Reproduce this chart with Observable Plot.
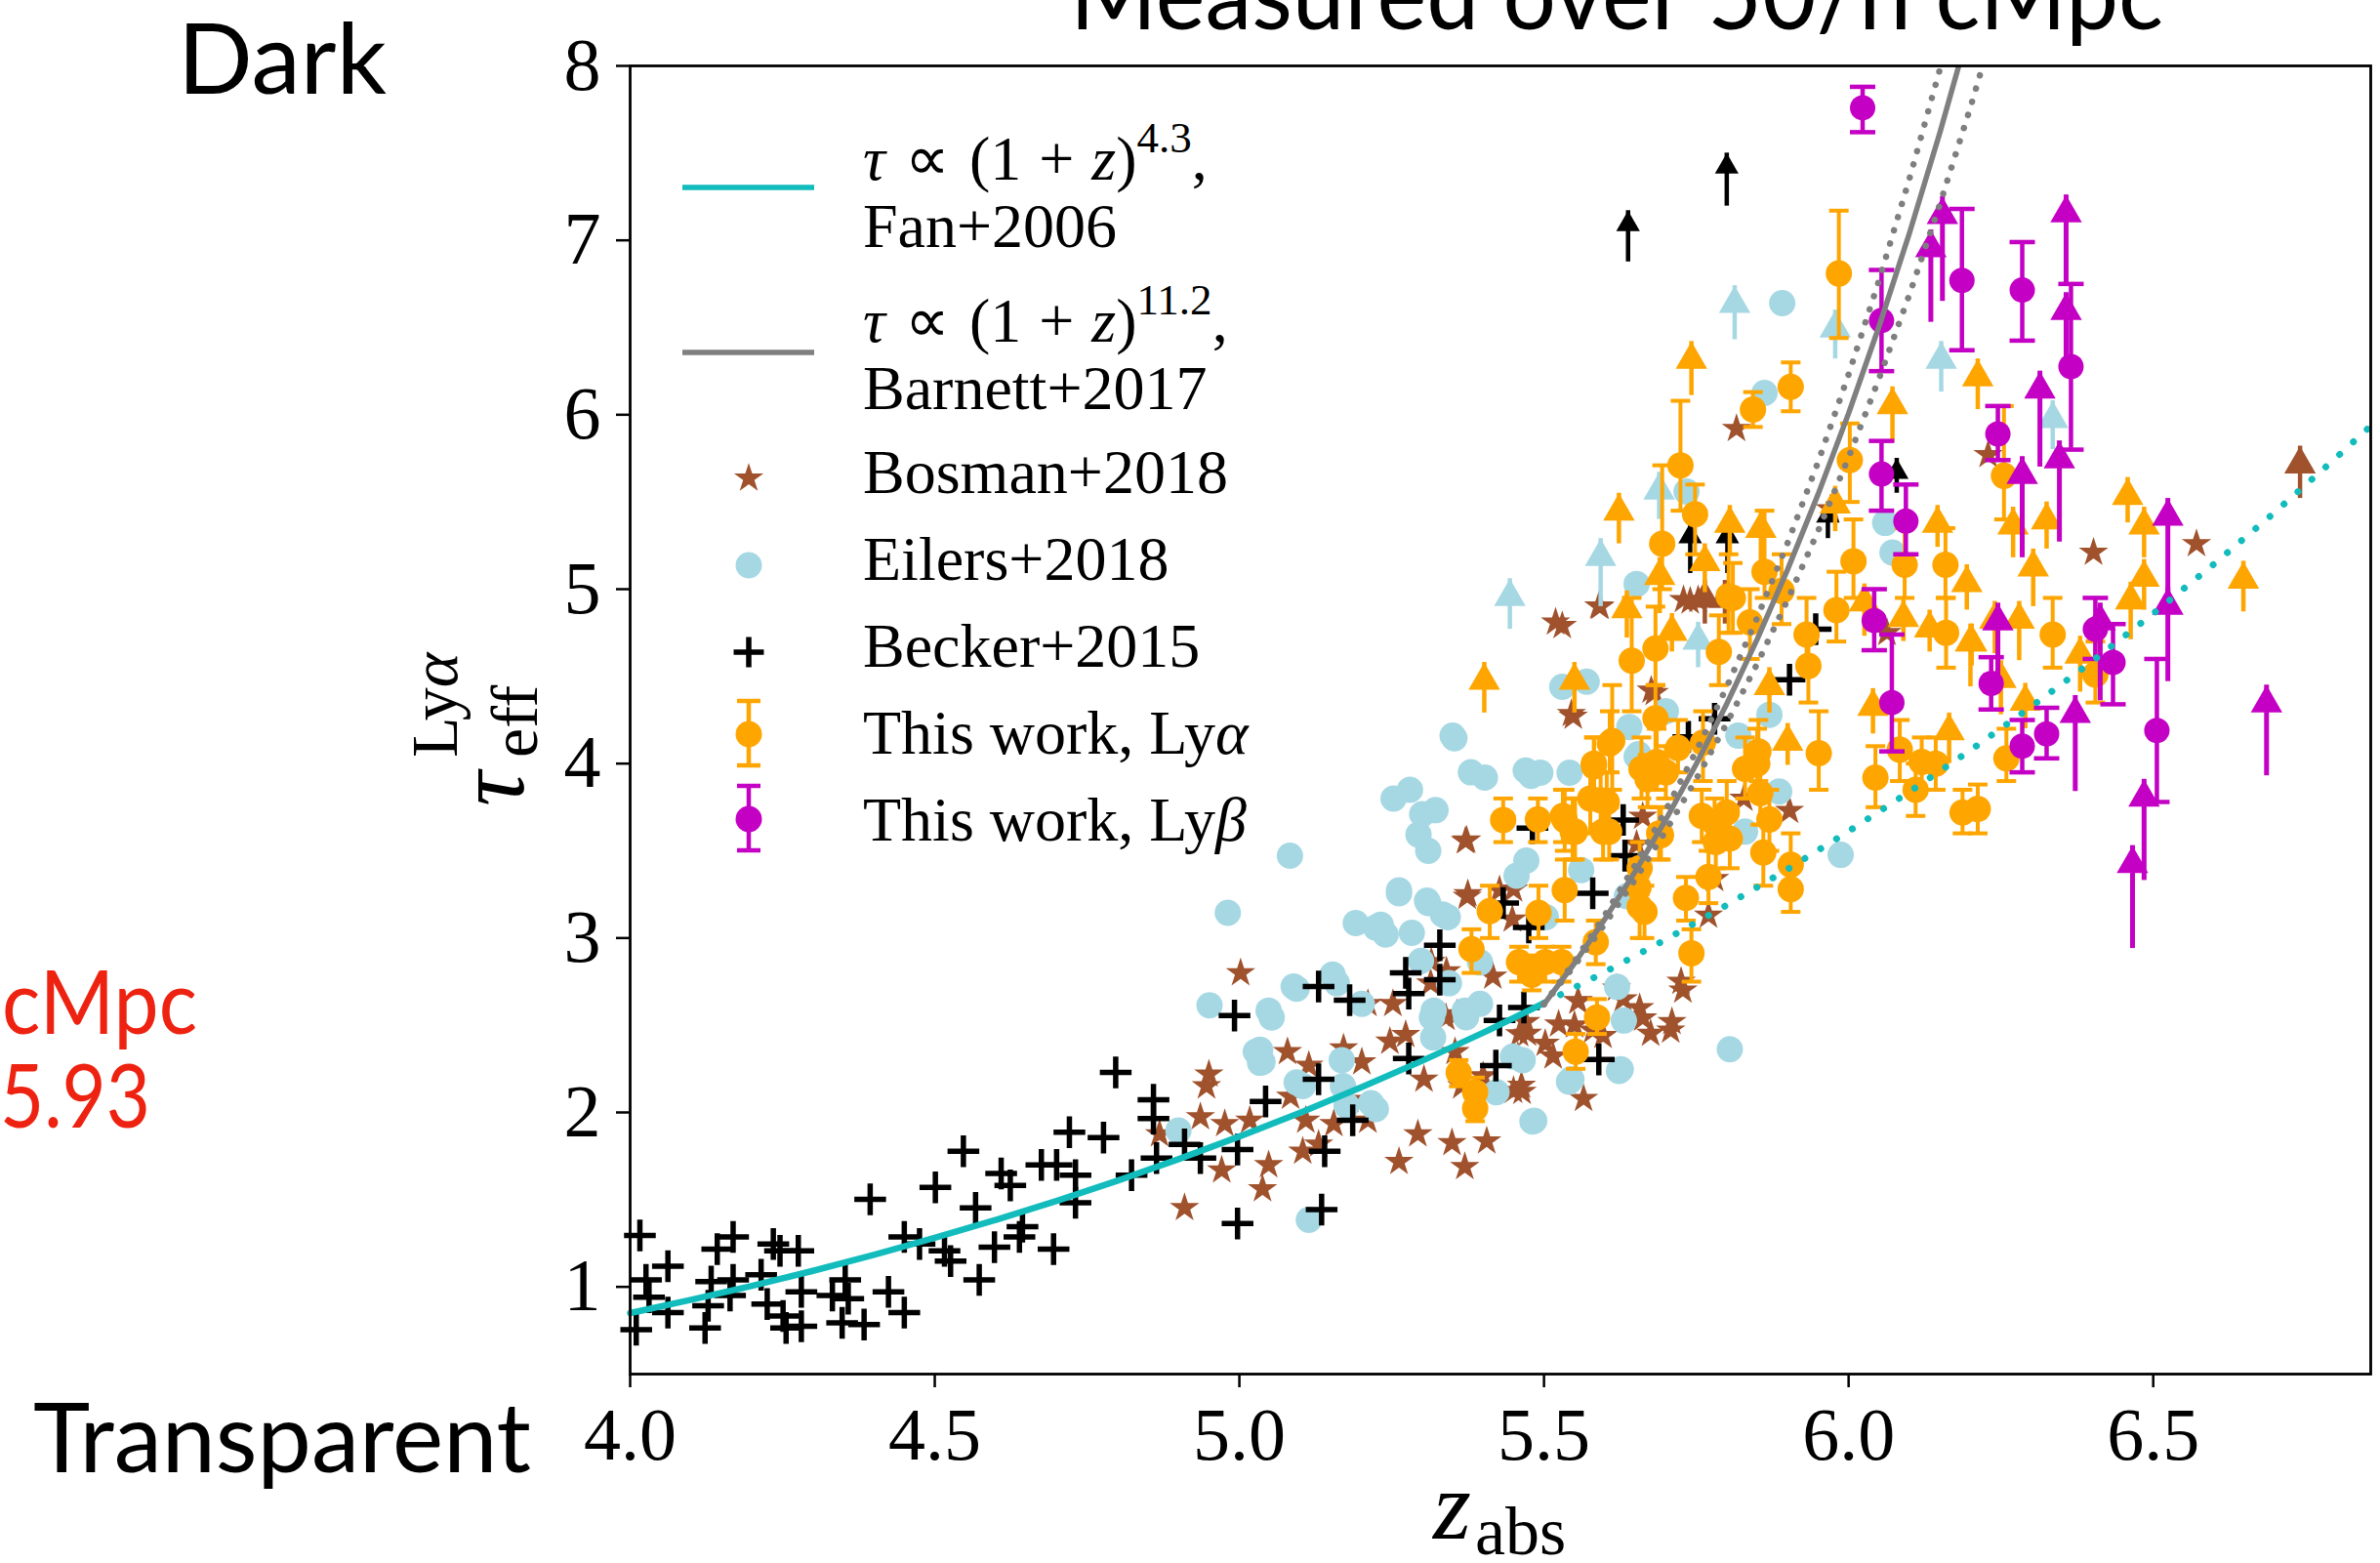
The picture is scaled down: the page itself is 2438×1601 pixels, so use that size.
<!DOCTYPE html>
<html><head><meta charset="utf-8">
<script src="https://cdn.jsdelivr.net/npm/d3@7"></script>
<script src="https://cdn.jsdelivr.net/npm/@observablehq/plot@0.6"></script>
<style>
html,body{margin:0;padding:0;background:#fff;}
#chart{position:relative;width:2438px;height:1601px;overflow:hidden;background:#fff;}
</style></head><body><div id="chart"></div>
<script>
// ---------- tick labels ----------
const xTicks = [4.0, 4.5, 5.0, 5.5, 6.0, 6.5];
const yTicks = [1, 2, 3, 4, 5, 6, 7, 8];

// ---------- model curves ----------
const fanSolid = [[4.0,0.850],[4.1,0.926],[4.2,1.006],[4.3,1.092],[4.4,1.183],[4.5,1.281],[4.6,1.384],[4.7,1.493],[4.8,1.609],[4.9,1.732],[5.0,1.862],[5.1,1.999],[5.2,2.144],[5.3,2.296],[5.4,2.457],[5.5,2.627]];
const fanDotted = [[5.5,2.627],[5.6,2.805],[5.7,2.992],[5.8,3.189],[5.9,3.395],[6.0,3.612],[6.1,3.839],[6.2,4.077],[6.3,4.327],[6.4,4.587],[6.5,4.860],[6.6,5.145],[6.7,5.442],[6.8,5.753],[6.86,5.945]];
const barnett = [[5.5,2.62],[5.55,2.855],[5.6,3.109],[5.65,3.383],[5.7,3.679],[5.75,3.998],[5.8,4.343],[5.85,4.714],[5.9,5.114],[5.95,5.545],[6.0,6.008],[6.05,6.507],[6.1,7.043],[6.15,7.619],[6.2,8.238]];
const barnettSteep = [[5.5,2.62],[5.55,2.866],[5.6,3.132],[5.65,3.421],[5.7,3.734],[5.75,4.073],[5.8,4.440],[5.85,4.837],[5.9,5.266],[5.95,5.730],[6.0,6.231],[6.05,6.771],[6.1,7.355],[6.15,7.983],[6.2,8.661]];
const barnettShallow = [[5.5,2.62],[5.55,2.842],[5.6,3.081],[5.65,3.338],[5.7,3.615],[5.75,3.912],[5.8,4.231],[5.85,4.573],[5.9,4.940],[5.95,5.334],[6.0,5.756],[6.05,6.208],[6.1,6.691],[6.15,7.209],[6.2,7.763],[6.25,8.355]];

// ---------- Becker+2015 [z, tau] ----------
const becker = [[4.016,1.295],[4.026,1.040],[4.031,0.941],[4.062,1.118],[4.010,0.755],[4.062,0.852],[4.123,0.764],[4.128,0.892],[4.133,1.030],[4.143,1.217],[4.169,1.286],[4.164,0.951],[4.169,1.040],[4.215,1.069],[4.225,0.902],[4.235,1.246],[4.246,1.207],[4.251,0.833],[4.256,0.764],[4.281,0.971],[4.281,0.774],[4.276,1.207],[4.332,0.951],[4.348,0.794],[4.353,1.040],[4.358,0.932],[4.384,0.784],[4.394,1.502],[4.424,0.971],[4.450,0.853],[4.450,1.286],[4.475,1.246],[4.501,1.571],[4.516,1.207],[4.526,1.148],[4.547,1.778],[4.567,1.453],[4.573,1.040],[4.598,1.227],[4.609,1.650],[4.624,1.581],[4.639,1.286],[4.644,1.345],[4.675,1.699],[4.700,1.699],[4.695,1.217],[4.721,1.886],[4.731,1.640],[4.731,1.482],[4.777,1.856],[4.797,2.230],[4.823,1.640],[4.859,2.073],[4.859,1.965],[4.864,1.738],[4.910,1.817],[4.936,1.738],[4.992,2.555],[4.997,1.364],[4.997,1.787],[5.043,2.063],[5.130,2.190],[5.130,2.722],[5.135,1.443],[5.140,1.777],[5.181,2.643],[5.186,1.955],[5.273,2.800],[5.278,2.682],[5.278,2.309],[5.329,2.958],[5.329,2.761],[5.421,2.269],[5.427,2.528],[5.467,2.602],[5.481,3.630],[5.475,3.06],[5.580,3.257],[5.633,3.472],[5.630,3.677],[5.590,2.303],[5.433,3.20],[5.737,4.154],[5.780,4.257],[5.903,4.481],[5.946,4.771]];
// Becker lower limits [z, value, arrow tip]
const beckerLim = [[5.638,6.876,7.17],[5.800,7.196,7.50],[5.740,5.09,5.38],[5.801,5.09,5.38],[5.966,5.29,5.50],[6.079,5.55,5.75]];

// ---------- Bosman+2018 [z, tau] ----------
const bosman = [[4.869,1.876],[4.946,2.151],[4.936,1.974],[4.976,1.935],[5.002,2.800],[4.971,1.669],[4.910,1.453],[5.017,1.954],[5.048,1.699],[5.038,1.561],[5.079,2.348],[5.084,2.092],[5.109,1.954],[5.114,2.269],[5.104,1.777],[5.130,1.817],[5.155,1.935],[5.171,2.368],[5.181,2.073],[5.201,2.289],[5.211,2.623],[5.211,1.954],[5.247,2.407],[5.252,2.623],[5.262,1.718],[5.273,2.446],[5.293,1.876],[5.303,2.190],[5.314,2.741],[5.339,2.544],[5.354,2.348],[5.365,2.151],[5.370,1.689],[5.375,3.253],[5.406,1.836],[5.416,2.780],[4.950,2.219],[5.349,1.826],[5.450,2.125],[5.473,2.453],[5.515,2.322],[5.565,2.079],[5.675,2.453],[5.708,2.471],[5.580,2.471],[5.371,3.556],[5.374,3.238],[5.427,3.275],[5.448,3.107],[5.662,3.696],[5.619,2.711],[5.556,2.637],[5.524,2.506],[5.502,2.395],[5.315,2.864],[5.357,2.564],[5.457,2.322],[5.463,2.154],[5.400,2.209],[5.590,4.902],[5.530,4.790],[5.545,4.285],[5.681,4.406],[5.729,4.939],[5.753,4.939],[5.652,3.537],[5.828,3.80],[5.903,3.73],[5.97,5.46],[6.063,4.75],[5.816,5.92],[5.519,4.81],[5.592,4.90],[5.548,4.27],[5.676,4.42],[5.740,4.93],[5.373,3.56],[6.229,5.77],[6.402,5.21],[6.571,5.26],[5.464,2.12],[5.47,2.52],[5.71,2.52],[5.728,2.70],[5.725,2.75],[5.63,2.65],[5.55,2.50],[5.556,2.64],[5.45,3.28],[5.77,3.13],[5.78,3.34],[5.657,2.60],[5.597,2.44],[5.662,2.54],[5.34,2.81],[5.46,2.45]];
const bosmanLim = [[6.741,5.52,5.82],[5.764,4.80,5.05],[5.797,4.80,5.05]];

// ---------- Eilers+2018 [z, tau] ----------
const eilers = [[4.900,1.896],[4.981,3.145],[4.951,2.614],[5.027,2.348],[5.048,2.584],[5.089,2.722],[5.114,1.384],[5.160,2.741],[5.191,3.086],[5.232,3.076],[5.201,2.623],[5.262,3.273],[5.298,2.869],[5.308,3.214],[5.334,3.135],[5.344,2.741],[5.319,2.584],[5.370,2.584],[5.395,2.623],[5.170,2.151],[5.216,2.053],[5.104,2.151],[5.038,2.29],[5.353,4.145],[5.403,3.920],[5.253,3.799],[5.322,3.733],[5.494,3.948],[5.542,3.948],[5.652,4.04],[5.294,3.593],[5.310,3.500],[5.083,3.472],[5.262,3.257],[5.310,3.201],[5.342,3.12],[5.471,3.444],[5.455,3.357],[5.503,3.12],[5.561,3.39],[5.636,3.24],[5.620,2.72],[5.283,3.03],[5.395,2.86],[5.224,3.06],[5.240,3.02],[5.316,2.545],[5.153,2.79],[5.094,2.71],[5.053,2.545],[5.034,2.36],[5.034,2.285],[5.094,2.172],[5.168,2.30],[5.176,2.04],[5.224,2.02],[5.318,2.43],[5.372,2.546],[5.449,2.32],[5.465,2.30],[5.422,2.116],[5.481,1.948],[5.545,2.19],[5.626,2.247],[5.631,2.527],[5.805,2.362],[5.623,2.238],[5.484,1.952],[5.541,2.176],[5.987,3.477],[5.886,3.84],[5.479,3.93],[5.655,4.054],[5.819,4.16],[5.87,4.28],[5.891,6.64],[5.862,6.125],[5.652,5.03],[5.734,5.56],[6.072,5.21],[6.06,5.38],[5.35,4.16],[5.38,3.95],[5.28,3.85],[5.30,3.71],[5.47,3.96],[5.53,4.44],[5.57,4.47],[5.64,4.21],[5.70,4.30],[5.83,3.61]];
const eilersLim = [[5.444,4.77,5.06],[5.593,4.90,5.29],[5.813,6.43,6.74],[5.978,6.32,6.60],[6.152,6.13,6.42],[6.335,5.80,6.08],[5.753,4.55,4.81],[5.689,5.40,5.67]];

// ---------- This work, Ly-alpha [z, tau, low, high] ----------
const lyaPts = [[5.984,6.81,6.44,7.17],[5.905,6.16,6.02,6.30],[5.843,6.03,5.93,6.13],[5.724,5.71,5.45,6.08],[5.694,5.26,5.0,5.71],[5.748,5.43,5.2,5.6],[5.862,5.10,4.95,5.45],[5.644,4.59,4.3,4.95],[5.683,4.66,4.45,4.9],[5.612,4.13,3.85,4.45],[5.683,4.26,4.05,4.45],[5.582,4.00,3.85,4.15],[5.685,4.01,3.85,4.2],[5.70,3.95,3.8,4.1],[5.761,4.12,3.9,4.3],[5.692,3.59,3.45,3.75],[5.607,3.61,3.45,3.75],[5.551,3.61,3.45,3.8],[5.593,3.79,3.65,3.95],[5.66,3.97,3.8,4.15],[5.759,3.70,3.55,3.85],[5.780,3.66,3.5,3.8],[5.80,3.72,3.55,3.9],[5.83,3.97,3.8,4.15],[5.85,4.00,3.85,4.2],[5.855,3.83,3.65,4.0],[5.87,3.68,3.5,3.85],[5.86,3.49,3.3,3.65],[5.905,3.42,3.25,3.6],[5.782,3.55,3.4,3.7],[5.803,4.96,4.75,5.2],[5.787,4.64,4.45,4.85],[5.838,4.81,4.6,5.0],[5.931,4.74,4.55,4.95],[5.934,4.56,4.35,4.75],[5.951,4.06,3.85,4.3],[6.044,3.92,3.75,4.1],[6.084,4.08,3.9,4.25],[6.11,3.85,3.7,4.0],[6.143,4.00,3.85,4.15],[6.212,3.74,3.6,3.88],[6.159,5.14,4.95,5.35],[6.092,5.14,4.95,5.35],[6.255,5.65,5.4,6.05],[6.335,4.74,4.55,4.95],[6.405,4.51,4.35,4.7],[5.433,3.677,3.55,3.8],[5.411,3.154,3.0,3.3],[5.491,3.144,3.0,3.3],[5.381,2.936,2.8,3.05],[5.534,3.275,3.1,3.45],[5.534,3.677,3.5,3.85],[5.547,3.61,3.45,3.8],[5.582,3.985,3.8,4.15],[5.576,3.80,3.6,4.0],[5.608,4.116,3.95,4.3],[5.597,3.61,3.45,3.75],[5.585,2.976,2.85,3.1],[5.657,3.40,3.25,3.55],[5.657,3.18,3.0,3.35],[5.459,2.862,2.75,2.95],[5.502,2.862,2.75,2.95],[5.529,2.862,2.75,2.95],[5.48,2.79,2.7,2.9],[5.587,2.545,2.45,2.65],[5.552,2.349,2.25,2.45],[5.360,2.228,2.15,2.3],[5.387,2.116,2.0,2.2],[5.387,2.023,1.95,2.1],[5.742,2.913,2.75,3.05],[5.665,3.15,3.0,3.3],[5.733,3.23,3.1,3.35],[5.655,3.29,3.15,3.45],[5.77,3.35,3.2,3.5],[5.905,3.28,3.15,3.4],[5.805,3.57,3.4,3.75],[5.689,3.60,3.45,3.75],[5.531,3.70,3.55,3.85],[5.603,3.78,3.6,3.95],[5.852,4.07,3.9,4.25],[6.12,4.01,3.85,4.15],[6.187,3.72,3.6,3.85],[6.259,4.03,3.9,4.2],[5.49,3.68,3.55,3.8],[5.67,3.91,3.75,4.05],[5.72,4.09,3.95,4.25],[5.81,4.95,4.75,5.15],[5.89,4.99,4.8,5.2],[5.98,4.88,4.7,5.1],[6.008,5.16,4.95,5.4],[6.16,4.75,4.55,4.95],[6.002,5.74,5.5,5.95]];
// Ly-alpha lower limits [z, value, arrow tip]
const lyaLim = [[5.742,6.11,6.42],[5.623,5.26,5.55],[5.402,4.29,4.58],[5.550,4.29,4.58],[5.805,5.19,5.48],[5.856,5.16,5.45],[6.072,5.84,6.16],[6.212,6.03,6.32],[6.458,5.38,5.64],[6.648,4.87,5.16],[5.636,4.72,4.99],[5.69,4.86,5.18],[5.71,4.64,4.86],[5.764,4.98,5.26],[5.87,4.29,4.55],[5.90,3.99,4.23],[5.978,5.33,5.59],[6.026,4.73,5.03],[6.04,4.17,4.43],[6.09,4.70,4.94],[6.133,4.64,4.88],[6.146,5.24,5.48],[6.194,4.88,5.14],[6.202,4.56,4.80],[6.165,4.00,4.29],[6.485,5.18,5.47],[6.485,4.88,5.17],[6.303,4.90,5.23],[6.325,5.23,5.50],[6.27,5.18,5.47],[6.24,4.63,4.93],[6.28,4.59,4.93],[6.20,4.44,4.80],[6.25,4.28,4.59],[6.29,4.20,4.46],[6.463,4.71,5.04],[6.38,4.41,4.73]];

// ---------- This work, Ly-beta [z, tau, low, high] ----------
const lybPts = [[6.023,7.76,7.62,7.88],[6.054,6.54,6.25,6.83],[6.186,6.77,6.37,7.18],[6.285,6.715,6.425,6.99],[6.365,6.276,5.80,6.75],[6.245,5.89,5.74,6.05],[6.054,5.66,5.45,5.85],[6.094,5.39,5.2,5.6],[6.042,4.82,4.65,5.0],[6.071,4.35,4.07,4.74],[6.234,4.46,4.31,4.61],[6.285,4.10,3.95,4.25],[6.325,4.17,4.03,4.32],[6.405,4.77,4.6,4.95],[6.434,4.58,4.34,4.80],[6.506,4.19,3.78,4.60]];
const lybLim = [[6.357,6.75,7.26],[6.357,6.32,6.70],[6.314,5.70,6.25],[6.285,5.18,5.76],[6.346,5.27,5.85],[6.154,6.65,7.25],[6.135,6.53,7.06],[6.245,4.41,4.92],[6.524,4.96,5.52],[6.524,4.47,5.01],[6.413,4.36,4.92],[6.372,3.84,4.39],[6.686,3.93,4.45],[6.466,2.94,3.53],[6.485,3.33,3.91]];

// ---------- colours ----------
const C = {fan:"#12bcbc", barnett:"#7f7f7f", bosman:"#a0522d", eilers:"#a6d8e4", becker:"#000000", lya:"#ffa500", lyb:"#c400c4"};

const capSym = {draw(ctx, size){const w = Math.sqrt(size / Math.PI); ctx.moveTo(-w, 0); ctx.lineTo(w, 0);}};
const triLift = 1.5552; // tip of d3 triangle sits 1.5552*r above its centre

function errMarks(data, color, capR, sw, r) {
  return [
    Plot.ruleX(data, {x: d => d[0], y1: d => d[2], y2: d => d[3], stroke: color, strokeWidth: sw}),
    Plot.dot(data, {x: d => d[0], y: d => d[2], symbol: capSym, r: capR, stroke: color, strokeWidth: sw, fill: "none"}),
    Plot.dot(data, {x: d => d[0], y: d => d[3], symbol: capSym, r: capR, stroke: color, strokeWidth: sw, fill: "none"}),
    Plot.dot(data, {x: d => d[0], y: d => d[1], r, fill: color, stroke: "none"})
  ];
}
function limMarks(data, color, r, sw) {
  return [
    Plot.ruleX(data, {x: d => d[0], y1: d => d[1], y2: d => d[2], stroke: color, strokeWidth: sw}),
    Plot.dot(data, {x: d => d[0], y: d => d[2], symbol: "triangle", r, fill: color, stroke: "none", dy: triLift * r})
  ];
}

const plot = Plot.plot({
  width: 2438, height: 1601,
  marginLeft: 645, marginRight: 10, marginTop: 67, marginBottom: 194,
  x: {domain: [4, 6.857]},
  y: {domain: [0.5, 8]},
  style: {fontFamily: "'Liberation Serif', serif", fontSize: "76px", background: "transparent", overflow: "visible", color: "#000"},
  marks: [
    Plot.dot(bosman, {x: d => d[0], y: d => d[1], symbol: "star", r: 9.5, fill: C.bosman, stroke: "none"}),
    ...limMarks(bosmanLim, C.bosman, 12, 4.5),
    Plot.dot(eilers, {x: d => d[0], y: d => d[1], r: 13.5, fill: C.eilers, stroke: "none"}),
    ...limMarks(eilersLim, C.eilers, 12, 4.5),
    Plot.dot(becker, {x: d => d[0], y: d => d[1], symbol: "plus", r: 10.5, stroke: C.becker, strokeWidth: 5.5, fill: "none"}),
    ...limMarks(beckerLim, C.becker, 9, 4.5),
    ...errMarks(lyaPts, C.lya, 10, 4, 13.5),
    ...limMarks(lyaLim, C.lya, 12, 4.5),
    ...errMarks(lybPts, C.lyb, 13, 4.5, 13),
    ...limMarks(lybLim, C.lyb, 12, 5),
    Plot.line(fanSolid, {x: d => d[0], y: d => d[1], stroke: C.fan, strokeWidth: 6.5}),
    Plot.line(fanDotted, {x: d => d[0], y: d => d[1], stroke: C.fan, strokeWidth: 7, strokeDasharray: "0.1,19", strokeLinecap: "round"}),
    Plot.line(barnettSteep, {x: d => d[0], y: d => d[1], stroke: C.barnett, strokeWidth: 6.5, strokeDasharray: "0.1,14", strokeLinecap: "round", clip: true}),
    Plot.line(barnettShallow, {x: d => d[0], y: d => d[1], stroke: C.barnett, strokeWidth: 6.5, strokeDasharray: "0.1,14", strokeLinecap: "round", clip: true}),
    Plot.line(barnett, {x: d => d[0], y: d => d[1], stroke: C.barnett, strokeWidth: 5.5, clip: true}),
    Plot.axisX({ticks: xTicks, tickFormat: d => d.toFixed(1), tickSize: 14, tickPadding: 20, strokeWidth: 2.5, label: null}),
    Plot.axisY({ticks: yTicks, tickFormat: d => String(d), tickSize: 14, tickPadding: 16, strokeWidth: 2.5, label: null}),
    Plot.frame({stroke: "#000", strokeWidth: 2.8})
  ]
});
document.getElementById("chart").appendChild(plot);

// ---------- legend, axis labels, slide annotations ----------
const svg = d3.select(plot);
const serif = "'Liberation Serif', serif";
const sans = "Lato, 'Open Sans', sans-serif";
const leg = svg.append("g").attr("font-family", serif).attr("font-size", 64).attr("fill", "#000").attr("text-anchor", "start");
const symX = 767, txtX = 884;

leg.append("line").attr("x1", 699).attr("x2", 834).attr("y1", 192).attr("y2", 192).attr("stroke", C.fan).attr("stroke-width", 5.5);
function powText(y, exp) {
  const t = leg.append("text").attr("x", txtX).attr("y", y);
  t.append("tspan").attr("font-style", "italic").text("τ");
  t.append("tspan").attr("dx", 20).text("∝");
  t.append("tspan").attr("dx", 20).text("(1");
  t.append("tspan").attr("dx", 18).text("+");
  t.append("tspan").attr("dx", 18).attr("font-style", "italic").text("z");
  t.append("tspan").text(")");
  t.append("tspan").attr("font-size", 45).attr("dy", -28).text(exp);
  t.append("tspan").attr("dy", 28).text(",");
}
powText(184, "4.3");
leg.append("text").attr("x", txtX).attr("y", 253).text("Fan+2006");
leg.append("line").attr("x1", 699).attr("x2", 834).attr("y1", 361).attr("y2", 361).attr("stroke", C.barnett).attr("stroke-width", 5.5);
powText(350, "11.2");
leg.append("text").attr("x", txtX).attr("y", 419).text("Barnett+2017");

leg.append("path").attr("d", d3.symbol(d3.symbolStar, Math.PI * 90)()).attr("transform", `translate(${symX},490)`).attr("fill", C.bosman);
leg.append("text").attr("x", txtX).attr("y", 505).text("Bosman+2018");
leg.append("circle").attr("cx", symX).attr("cy", 579).attr("r", 13.5).attr("fill", C.eilers);
leg.append("text").attr("x", txtX).attr("y", 594).text("Eilers+2018");
leg.append("path").attr("d", d3.symbol(d3.symbolPlus, Math.PI * 100)()).attr("transform", `translate(${symX},668)`).attr("fill", "none").attr("stroke", "#000").attr("stroke-width", 5.5);
leg.append("text").attr("x", txtX).attr("y", 683).text("Becker+2015");

function legErr(cy, color) {
  leg.append("line").attr("x1", symX).attr("x2", symX).attr("y1", cy - 34).attr("y2", cy + 32).attr("stroke", color).attr("stroke-width", 4.5);
  leg.append("line").attr("x1", symX - 12).attr("x2", symX + 12).attr("y1", cy - 34).attr("y2", cy - 34).attr("stroke", color).attr("stroke-width", 4.5);
  leg.append("line").attr("x1", symX - 12).attr("x2", symX + 12).attr("y1", cy + 32).attr("y2", cy + 32).attr("stroke", color).attr("stroke-width", 4.5);
  leg.append("circle").attr("cx", symX).attr("cy", cy).attr("r", 13.5).attr("fill", color);
}
legErr(752, C.lya);
const ta = leg.append("text").attr("x", txtX).attr("y", 772);
ta.append("tspan").text("This work, Ly");
ta.append("tspan").attr("font-style", "italic").text("α");
legErr(839, C.lyb);
const tb = leg.append("text").attr("x", txtX).attr("y", 861);
tb.append("tspan").text("This work, Ly");
tb.append("tspan").attr("font-style", "italic").text("β");

// y axis label  τ_eff^Lyα
const yl = svg.append("g").attr("font-family", serif).attr("fill", "#000").attr("text-anchor", "start").attr("transform", "translate(536,826) rotate(-90)");
yl.append("text").attr("x", 0).attr("y", 0).attr("font-size", 100).attr("font-style", "italic").text("τ");
yl.append("text").attr("x", 50).attr("y", 14).attr("font-size", 68).text("eff");
const lyl = yl.append("text").attr("x", 50).attr("y", -68).attr("font-size", 68);
lyl.append("tspan").text("Ly");
lyl.append("tspan").attr("font-style", "italic").text("α");

// x axis label  z_abs
const xl = svg.append("text").attr("font-family", serif).attr("fill", "#000").attr("text-anchor", "start").attr("x", 1468).attr("y", 1576);
xl.append("tspan").attr("font-size", 100).attr("font-style", "italic").text("z");
xl.append("tspan").attr("font-size", 70).attr("dy", 16).attr("dx", 4).text("abs");

// slide annotations
const ann = svg.append("g").attr("font-family", sans).attr("text-anchor", "start");
ann.append("text").attr("x", 1656).attr("y", 30).attr("text-anchor", "middle").attr("font-size", 100).attr("textLength", 1120).attr("lengthAdjust", "spacingAndGlyphs").attr("fill", "#000").text("Measured over 50/h cMpc");
ann.append("text").attr("x", 182).attr("y", 96).attr("font-size", 100).attr("textLength", 214).attr("lengthAdjust", "spacingAndGlyphs").attr("fill", "#000").text("Dark");
ann.append("text").attr("x", 34).attr("y", 1508).attr("font-size", 98).attr("textLength", 510).attr("lengthAdjust", "spacingAndGlyphs").attr("fill", "#000").text("Transparent");
ann.append("text").attr("x", 2).attr("y", 1059).attr("font-size", 92).attr("textLength", 200).attr("lengthAdjust", "spacingAndGlyphs").attr("fill", "#ee2211").text("cMpc");
ann.append("text").attr("x", 0).attr("y", 1155).attr("font-size", 92).attr("textLength", 154).attr("lengthAdjust", "spacingAndGlyphs").attr("fill", "#ee2211").text("5.93");
</script></body></html>
